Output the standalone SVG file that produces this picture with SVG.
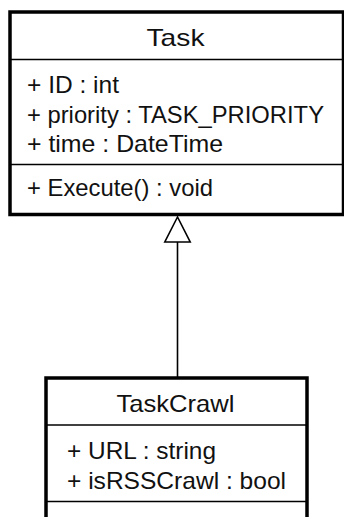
<svg xmlns="http://www.w3.org/2000/svg" width="344" height="517" viewBox="0 0 344 517">
  <style>
    .box { fill: #fff; stroke: #000; stroke-width: 3.5; }
    .div { stroke: #000; stroke-width: 1.6; }
    .t { font-family: "Liberation Sans", Arial, sans-serif; font-size: 24px; fill: #111; }
    .c { text-anchor: middle; }
    .edge { stroke: #000; stroke-width: 1.6; fill: none; }
    .head { fill: #fff; stroke: #000; stroke-width: 1.6; }
  </style>
  <rect width="344" height="517" fill="#fff"/>
  <g id="connectors">
    <line class="edge" x1="177.5" y1="242" x2="177.5" y2="377"/>
    <polygon class="head" points="177.5,217 164.8,242 190.2,242"/>
  </g>
  <g id="Task">
    <rect class="box" x="10" y="12" width="333.5" height="202.5"/>
    <line class="div" x1="10" y1="59.5" x2="343.5" y2="59.5"/>
    <line class="div" x1="10" y1="164.5" x2="343.5" y2="164.5"/>
    <text class="t c" x="175.5" y="45.5" textLength="58" lengthAdjust="spacingAndGlyphs">Task</text>
    <text class="t" x="27" y="92.5" textLength="92" lengthAdjust="spacingAndGlyphs">+ ID : int</text>
    <text class="t" x="27" y="122.5" textLength="297" lengthAdjust="spacingAndGlyphs">+ priority : TASK_PRIORITY</text>
    <text class="t" x="27" y="152" textLength="196" lengthAdjust="spacingAndGlyphs">+ time : DateTime</text>
    <text class="t" x="27" y="196" textLength="186" lengthAdjust="spacingAndGlyphs">+ Execute() : void</text>
  </g>
  <g id="TaskCrawl">
    <rect class="box" x="46" y="378" width="261" height="160"/>
    <line class="div" x1="46" y1="425" x2="307" y2="425"/>
    <line class="div" x1="46" y1="501.5" x2="307" y2="501.5"/>
    <text class="t c" x="175.5" y="412" textLength="118" lengthAdjust="spacingAndGlyphs">TaskCrawl</text>
    <text class="t" x="67" y="459" textLength="149" lengthAdjust="spacingAndGlyphs">+ URL : string</text>
    <text class="t" x="67" y="488.5" textLength="219" lengthAdjust="spacingAndGlyphs">+ isRSSCrawl : bool</text>
  </g>
</svg>
